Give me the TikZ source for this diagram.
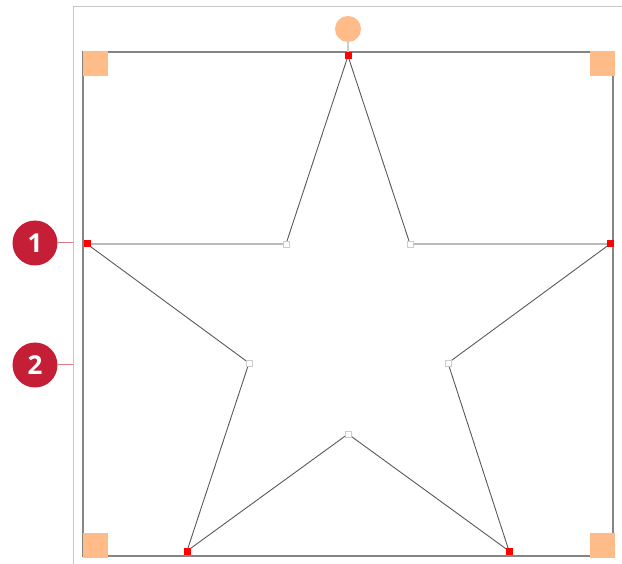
\documentclass[tikz,border=0pt]{standalone}
\usepackage{fontspec}
\setsansfont{Open Sans}
\begin{document}
\begin{tikzpicture}[x=1pt,y=-1pt,
  handle/.style={fill=handleorange,draw=none,minimum size=25pt,inner sep=0pt},
  vert/.style={fill=red,draw=none,minimum size=7pt,inner sep=0pt},
  inner/.style={fill=white,draw=gray!40,line width=0.5pt,minimum size=6pt,inner sep=0pt},
  callout/.style={circle,fill=calloutred,draw=none,minimum size=45pt,inner sep=0pt,text=white,font=\sffamily\bfseries\fontsize{26}{26}\selectfont},
  edge/.style={draw=gray!70!black,line width=0.9pt},
  hedge/.style={draw=gray!55,line width=1.5pt},
  leader/.style={draw=calloutred!60,line width=1pt}]
\definecolor{handleorange}{HTML}{FFBB88}
\definecolor{calloutred}{HTML}{C51F38}
\useasboundingbox (0,0) rectangle (622,564);
% outer light frame
\draw[gray!45,line width=1pt] (73,570) -- (73,7) -- (630,7);
% bounding box
\draw[gray!80!black!80,line width=2pt] (83,52) rectangle (613,556);
% handles
\node[handle] (htl) at (95.5,63.5) {};
\node[handle] (htr) at (602,63.5) {};
\node[handle] (hbl) at (95.5,545) {};
\node[handle] (hbr) at (602,545) {};
\node[circle,fill=handleorange,draw=none,minimum size=26pt,inner sep=0pt] (rot) at (348,29) {};
\coordinate (rotbase) at (348,52);
\draw[gray!40,line width=1.2pt] (rot) -- (rotbase);
% star points
\coordinate (pT) at (348,56);
\coordinate (pL) at (87,244);
\coordinate (pR) at (610,244);
\coordinate (pBL) at (187,551);
\coordinate (pBR) at (509,551);
\coordinate (iTL) at (286,244);
\coordinate (iTR) at (410,244);
\coordinate (iL) at (249,363);
\coordinate (iR) at (448,363);
\coordinate (iB) at (348,434);
\draw[edge] (pT) -- (iTR);
\draw[hedge] (iTR) -- (pR);
\draw[edge] (pR) -- (iR) -- (pBR) -- (iB) -- (pBL) -- (iL) -- (pL);
\draw[hedge] (pL) -- (iTL);
\draw[edge] (iTL) -- (pT);
\foreach \p in {pT,pL,pR,pBL,pBR} \node[vert] at (\p) {};
\foreach \p in {iTL,iTR,iL,iR,iB} \node[inner] at (\p) {};
% callouts
\node[callout] (c1) at (35,243) {1};
\node[callout] (c2) at (35,365) {2};
\coordinate (l1) at (73,243);
\coordinate (l2) at (73,365);
\draw[leader] (c1) -- (l1);
\draw[leader] (c2) -- (l2);
\end{tikzpicture}
\end{document}
